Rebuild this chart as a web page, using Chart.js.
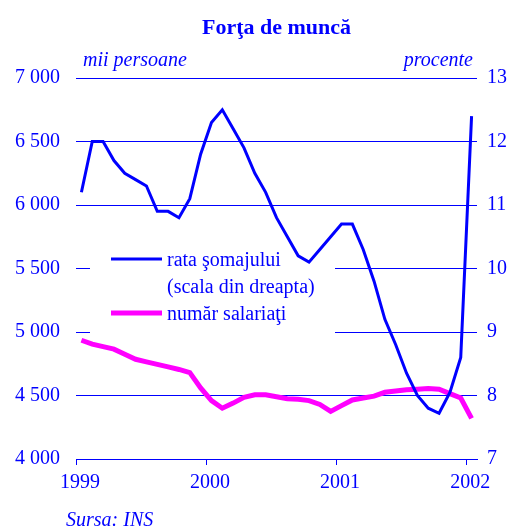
<!DOCTYPE html>
<html lang="ro">
<head>
<meta charset="UTF-8">
<title>Forţa de muncă</title>
<script src="https://cdn.jsdelivr.net/npm/chart.js"></script>
<style>
  body { margin: 0; background: #fff; }
  canvas { display: block; }
</style>
</head>
<body>
<canvas id="chart" width="516" height="530"></canvas>
<script>
// luni: ian 1999 - ian 2002
const months = [
  '1999-01','1999-02','1999-03','1999-04','1999-05','1999-06','1999-07','1999-08','1999-09','1999-10','1999-11','1999-12',
  '2000-01','2000-02','2000-03','2000-04','2000-05','2000-06','2000-07','2000-08','2000-09','2000-10','2000-11','2000-12',
  '2001-01','2001-02','2001-03','2001-04','2001-05','2001-06','2001-07','2001-08','2001-09','2001-10','2001-11','2001-12',
  '2002-01'
];
const yearLabels = ['1999', '2000', '2001', '2002'];
const yearTicks = [0, 12, 24, 36];

const leftTicks = [4000, 4500, 5000, 5500, 6000, 6500, 7000];
const leftTickLabels = ['4 000', '4 500', '5 000', '5 500', '6 000', '6 500', '7 000'];
const rightTicks = [7, 8, 9, 10, 11, 12, 13];
const rightTickLabels = ['7', '8', '9', '10', '11', '12', '13'];

// rata somajului, procente (scala din dreapta)
const rataSomaj = [
  11.2, 12.0, 12.0, 11.7, 11.5, 11.4, 11.3, 10.9, 10.9, 10.8, 11.1, 11.8,
  12.3, 12.5, 12.2, 11.9, 11.5, 11.2, 10.8, 10.5, 10.2, 10.1, 10.3, 10.5,
  10.7, 10.7, 10.3, 9.8, 9.2, 8.8, 8.35, 8.0, 7.8, 7.72, 8.05, 8.6,
  12.4
];
// numar salariati, mii persoane
const salariati = [
  4935, 4905, 4885, 4865, 4825, 4785, 4765, 4745, 4725, 4705, 4680, 4560,
  4460, 4400, 4440, 4485, 4505, 4505, 4490, 4475, 4470, 4460, 4430, 4375,
  4420, 4465, 4480, 4495, 4525, 4535, 4545, 4550, 4555, 4550, 4515, 4480,
  4320
];

const legendLabels = ['rata şomajului', '(scala din dreapta)', 'număr salariaţi'];

const BLUE = '#0000ff';
const MAGENTA = '#ff00ff';
const FONT = "'Liberation Serif', 'Times New Roman', serif";

const toPoints = arr => arr.map((v, i) => ({ x: i + 0.5, y: v }));

const textPlugin = {
  id: 'texts',
  beforeDatasetsDraw(chart) {
    const ctx = chart.ctx;
    ctx.save();
    // fundal legenda
    ctx.fillStyle = '#ffffff';
    ctx.fillRect(90, 264, 245, 72);
    // mostre linii
    ctx.strokeStyle = BLUE;
    ctx.lineWidth = 3;
    ctx.beginPath();
    ctx.moveTo(111, 259);
    ctx.lineTo(162, 259);
    ctx.stroke();
    ctx.strokeStyle = MAGENTA;
    ctx.lineWidth = 5;
    ctx.beginPath();
    ctx.moveTo(111, 313);
    ctx.lineTo(162, 313);
    ctx.stroke();
    ctx.fillStyle = BLUE;
    ctx.font = '20px ' + FONT;
    ctx.textAlign = 'left';
    ctx.textBaseline = 'alphabetic';
    ctx.fillText(legendLabels[0], 167, 266);
    ctx.fillText(legendLabels[1], 167, 293);
    ctx.fillText(legendLabels[2], 167, 320);
    ctx.restore();
  },
  afterDraw(chart) {
    const ctx = chart.ctx;
    const area = chart.chartArea;
    ctx.save();
    ctx.fillStyle = BLUE;
    ctx.textBaseline = 'alphabetic';
    ctx.font = 'bold 22px ' + FONT;
    ctx.textAlign = 'center';
    ctx.fillText('Forţa de muncă', (area.left + area.right) / 2, 34);
    ctx.font = 'italic 20px ' + FONT;
    ctx.textAlign = 'left';
    ctx.fillText('mii persoane', 83, 66);
    ctx.textAlign = 'right';
    ctx.fillText('procente', 473, 66);
    ctx.textAlign = 'left';
    ctx.fillText('Sursa: INS', 66, 526);
    ctx.restore();
  }
};

new Chart(document.getElementById('chart'), {
  type: 'line',
  data: {
    datasets: [
      {
        label: legendLabels[0],
        data: toPoints(rataSomaj),
        yAxisID: 'y2',
        borderColor: BLUE,
        borderWidth: 3,
        pointRadius: 0,
        tension: 0
      },
      {
        label: legendLabels[2],
        data: toPoints(salariati),
        yAxisID: 'y',
        borderColor: MAGENTA,
        borderWidth: 5,
        pointRadius: 0,
        tension: 0
      }
    ]
  },
  options: {
    responsive: false,
    animation: false,
    devicePixelRatio: 1,
    layout: { padding: { top: 78, left: 0, right: 0, bottom: 0 } },
    plugins: {
      legend: { display: false },
      tooltip: { enabled: false },
      title: { display: false }
    },
    scales: {
      x: {
        type: 'linear',
        min: 0,
        max: months.length,
        afterBuildTicks: s => { s.ticks = yearTicks.map(v => ({ value: v })); },
        afterFit: s => { s.height = 71; },
        grid: { drawOnChartArea: false, drawTicks: true, tickLength: 6, color: BLUE, lineWidth: 1 },
        border: { display: true, color: BLUE, width: 1 },
        ticks: {
          color: BLUE,
          font: { family: FONT, size: 20 },
          padding: 6,
          labelOffset: 4,
          maxRotation: 0,
          autoSkip: false,
          callback: v => yearLabels[yearTicks.indexOf(v)]
        }
      },
      y: {
        position: 'left',
        min: 4000,
        max: 7000,
        afterBuildTicks: s => { s.ticks = leftTicks.map(v => ({ value: v })); },
        afterFit: s => { s.width = 76; },
        grid: { drawTicks: false, color: BLUE, lineWidth: 1 },
        border: { display: false },
        ticks: {
          color: BLUE,
          font: { family: FONT, size: 20 },
          padding: 16,
          callback: v => leftTickLabels[leftTicks.indexOf(v)]
        }
      },
      y2: {
        position: 'right',
        min: 7,
        max: 13,
        afterBuildTicks: s => { s.ticks = rightTicks.map(v => ({ value: v })); },
        afterFit: s => { s.width = 39; },
        grid: { display: false, drawTicks: false },
        border: { display: false },
        ticks: {
          color: BLUE,
          font: { family: FONT, size: 20 },
          padding: 10,
          callback: v => rightTickLabels[rightTicks.indexOf(v)]
        }
      }
    }
  },
  plugins: [textPlugin]
});
</script>
</body>
</html>
